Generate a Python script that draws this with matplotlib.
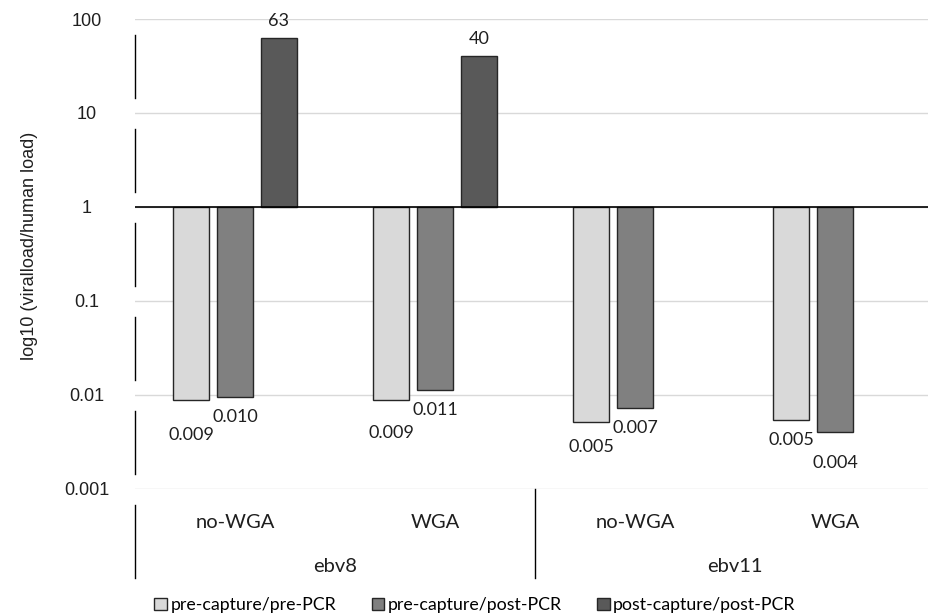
import numpy as np
import matplotlib
matplotlib.use("Agg")
import matplotlib.pyplot as plt
from matplotlib.patches import Patch
from matplotlib.transforms import blended_transform_factory

# ratios of viral load to human load, per sample
groups = ["ebv8", "ebv11"]
conditions = ["no-WGA", "WGA", "no-WGA", "WGA"]
series = ["pre-capture/pre-PCR", "pre-capture/post-PCR", "post-capture/post-PCR"]
pre_pre = [0.0089, 0.0089, 0.0051, 0.0054]
pre_post = [0.0096, 0.0113, 0.0072, 0.0040]
post_post = [63, 40, np.nan, np.nan]
ytick_vals = [100, 10, 1, 0.1, 0.01, 0.001]
ytick_labels = ["100", "10", "1", "0.1", "0.01", "0.001"]

plt.rcParams["font.family"] = "Liberation Sans"

colors = ["#d9d9d9", "#808080", "#595959"]
edge = "#262626"
label_font = "Lato"
txt = "#1f1f1f"

# how far (px) each value label sits from its bar end
label_dy = [[35, 20, 17], [33, 20, 17], [25, 20, 17], [20, 31, 17]]

fig = plt.figure(figsize=(9.29, 6.13), dpi=100)
W, H = 929, 613
ax = fig.add_axes([135 / W, (H - 489) / H, 800 / W, 470 / H])
ax.set_yscale("log")
ax.set_ylim(0.001, 100)
ax.set_xlim(-0.5, 3.5)

x = np.arange(len(conditions))
offsets = [-0.22, 0.0, 0.22]
for i, vals in enumerate([pre_pre, pre_post, post_post]):
    for j, v in enumerate(vals):
        if np.isnan(v):
            continue
        xb = x[j] + offsets[i]
        ax.bar(xb, v - 1, bottom=1, width=0.18, color=colors[i],
               edgecolor=edge, linewidth=1.0, zorder=3)
        if v < 1:
            dy = -label_dy[j][i] * 0.72
            s = f"{v:.3f}"
        else:
            dy = label_dy[j][i] * 0.72
            s = f"{v:.0f}"
        ax.annotate(s, (xb, v), xytext=(0, dy), textcoords="offset points",
                    ha="center", va="center", fontsize=13, family=label_font,
                    color=txt)

# gridlines and the baseline at 1
for t in ytick_vals:
    ax.axhline(t, color="#d9d9d9", linewidth=1.0, zorder=1)
ax.axhline(1, color="#000000", linewidth=1.2, zorder=4)

for s in ax.spines.values():
    s.set_visible(False)
ax.set_xticks([])
ax.set_yticks(ytick_vals)
ax.set_yticklabels(ytick_labels, ha="center", fontsize=13, color=txt)
ax.minorticks_off()
ax.tick_params(axis="y", length=0, pad=35)
ax.set_ylabel("log10 (viralload/human load)", fontsize=13, color=txt)
ax.yaxis.set_label_coords(-97 / 800, 0.517)

# broken left axis line between the gridlines
px = 470 / 5.0
for k in range(-3, 2):
    ax.plot([-0.5, -0.5], [10 ** (k + 1 - 16 / px), 10 ** (k + 15 / px)],
            color="#000000", linewidth=1.0, clip_on=False, zorder=5)

# category axis below the plot
tr = blended_transform_factory(ax.transData, ax.transAxes)
ax.plot([-0.5, -0.5], [-16 / 470, -89 / 470], transform=tr, color="#000000",
        linewidth=1.0, clip_on=False)
ax.plot([1.5, 1.5], [0, -89 / 470], transform=tr, color="#000000",
        linewidth=1.0, clip_on=False)
for j, c in enumerate(conditions):
    ax.text(x[j], -33 / 470, c, transform=tr, ha="center", va="center",
            fontsize=14.5, family=label_font, color=txt)
for g, name in enumerate(groups):
    ax.text(0.5 + 2 * g, -78 / 470, name, transform=tr, ha="center",
            va="center", fontsize=14.5, family=label_font, color=txt)

handles = [Patch(facecolor=colors[i], edgecolor=edge, linewidth=1.0,
                 label=series[i]) for i in range(3)]
fig.legend(handles=handles, loc="center", bbox_to_anchor=(475 / W, 1 - 605 / H),
           ncol=3, frameon=False, handlelength=0.7, handleheight=0.7,
           handletextpad=0.2, columnspacing=2.0,
           prop={"family": label_font, "size": 12.8})

fig.savefig("out.png", dpi=100)
